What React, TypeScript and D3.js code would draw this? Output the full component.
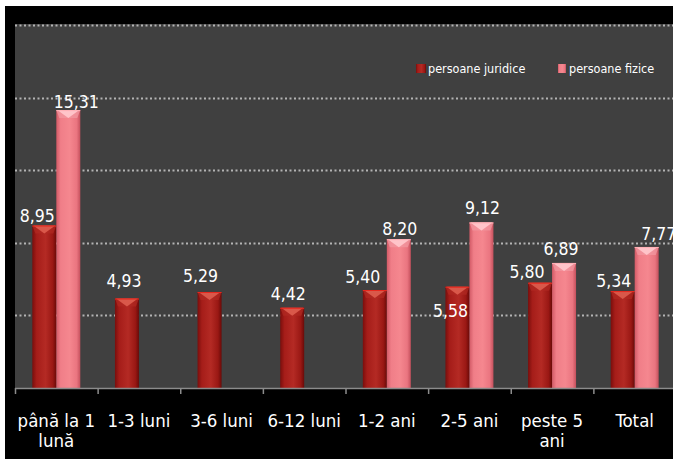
import React from "react";
import * as d3 from "d3";

const categories = ["până la 1 lună", "1-3 luni", "3-6 luni", "6-12 luni", "1-2 ani", "2-5 ani", "peste 5 ani", "Total"];
const seriesNames = ["persoane juridice", "persoane fizice"];
const juridice: (number | null)[] = [8.95, 4.93, 5.29, 4.42, 5.4, 5.58, 5.8, 5.34];
const fizice: (number | null)[] = [15.31, null, null, null, 8.2, 9.12, 6.89, 7.77];
const yTicks = [0, 4, 8, 12, 16, 20];

// label nudges (style): [dx, dy] relative to default placement
const juridiceNudge = [[-7, 3], [-3, -5], [-9, -3], [-4, -1], [-12, 0], [-7, 37], [-13, 2], [-9, 3]];
const fiziceNudge = [[8, 5], [0, 0], [0, 0], [0, 0], [1, 3], [1, -1], [-3, -1], [12, 0]];

const W = 673, H = 459;
const plotLeft = 15, plotRight = 676, plotTop = 24, plotBottom = 388;
const FONT = "'DejaVu Sans Condensed', 'DejaVu Sans', sans-serif";

function wrap(label: string): string[] {
  if (label.length <= 10) return [label];
  const i = label.lastIndexOf(" ");
  return [label.slice(0, i), label.slice(i + 1)];
}

const fmt = (v: number) => v.toFixed(2).replace(".", ",");

export default function App() {
  const x = d3.scaleBand<string>().domain(categories).range([plotLeft, plotRight]).paddingInner(0).paddingOuter(0);
  const y = d3.scaleLinear().domain([0, 20]).range([plotBottom, plotTop + 1]);
  const barW = 24;
  const inner = d3.scaleBand<number>().domain([0, 1]).range([-barW, barW]).padding(0);

  const series = [
    { values: juridice, nudge: juridiceNudge, grad: "gDark", cap: "#d9584a", capSide: "#b02a22", edge: "#e8281e" },
    { values: fizice, nudge: fiziceNudge, grad: "gLight", cap: "#ffc4c9", capSide: "#f29aa2", edge: "#ffb0b6" },
  ];

  const boundaries = categories.map((c) => x(c)!);

  return (
    <svg width={W} height={H} style={{ position: "absolute", left: 0, top: 0 }} fontFamily={FONT}>
      <defs>
        <linearGradient id="gDark" x1="0" x2="1" y1="0" y2="0">
          <stop offset="0" stopColor="#7a0e0c" />
          <stop offset="0.18" stopColor="#a51d19" />
          <stop offset="0.55" stopColor="#b42a24" />
          <stop offset="0.85" stopColor="#9a1814" />
          <stop offset="1" stopColor="#6a0a08" />
        </linearGradient>
        <linearGradient id="gLight" x1="0" x2="1" y1="0" y2="0">
          <stop offset="0" stopColor="#d25a66" />
          <stop offset="0.18" stopColor="#f07e88" />
          <stop offset="0.55" stopColor="#f5878f" />
          <stop offset="0.85" stopColor="#ea7580" />
          <stop offset="1" stopColor="#c4505c" />
        </linearGradient>
      </defs>
      <rect x={0} y={0} width={W} height={H} fill="#ffffff" />
      <rect x={5} y={6} width={W - 5} height={H - 6} fill="#000000" />
      <rect x={plotLeft} y={plotTop} width={plotRight - plotLeft} height={plotBottom - plotTop} fill="#404040" />

      {yTicks.filter((t) => t > 0).map((t) => (
        <line key={t} x1={plotLeft} x2={plotRight} y1={Math.round(y(t)) + 0.5} y2={Math.round(y(t)) + 0.5}
          stroke="#b4b4b4" strokeWidth={2} strokeDasharray="2 2.5" />
      ))}

      {categories.map((c, ci) =>
        series.map((s, si) => {
          const v = s.values[ci];
          if (v == null) return null;
          const cx0 = x(c)! + x.bandwidth() / 2 + inner(si)!;
          const x0 = cx0, x1 = cx0 + barW;
          const top = y(v);
          const mid = (x0 + x1) / 2;
          const capH = 8;
          return (
            <g key={`${ci}-${si}`}>
              <rect x={x0} y={top} width={barW} height={plotBottom - top} fill={`url(#${s.grad})`} />
              <polygon points={`${x0},${top} ${x1},${top} ${x1 - 3},${top + capH} ${x0 + 3},${top + capH}`} fill={s.capSide} opacity={0.7} />
              <polygon points={`${x0 + 1},${top} ${x1 - 1},${top} ${mid},${top + capH}`} fill={s.cap} />
              <line x1={x0} x2={x1} y1={top + 0.5} y2={top + 0.5} stroke={s.edge} strokeWidth={1} />
            </g>
          );
        })
      )}

      <line x1={plotLeft} x2={plotRight} y1={plotBottom + 0.5} y2={plotBottom + 0.5} stroke="#8c8c8c" strokeWidth={1.5} />
      {boundaries.map((bx, i) => (
        <line key={i} x1={bx + 0.5} x2={bx + 0.5} y1={plotBottom} y2={plotBottom + 6} stroke="#8c8c8c" strokeWidth={1.5} />
      ))}

      {categories.map((c, ci) =>
        series.map((s, si) => {
          const v = s.values[ci];
          if (v == null) return null;
          const mid = x(c)! + x.bandwidth() / 2 + inner(si)! + barW / 2;
          const [dx, dy] = s.nudge[ci];
          return (
            <text key={`l${ci}-${si}`} x={mid + dx} y={y(v) - 7 + dy} textAnchor="middle" fill="#ffffff" fontSize={17.5}>
              {fmt(v)}
            </text>
          );
        })
      )}

      {categories.map((c) => {
        const lines = wrap(c);
        const cx = x(c)! + x.bandwidth() / 2;
        return (
          <text key={c} x={cx} y={427} textAnchor="middle" fill="#ffffff" fontSize={18.5}>
            {lines.map((ln, i) => (
              <tspan key={i} x={cx} dy={i === 0 ? 0 : 20}>{ln}</tspan>
            ))}
          </text>
        );
      })}

      {seriesNames.map((n, i) => {
        const lx = [416, 558][i];
        return (
          <g key={n}>
            <rect x={lx} y={64} width={i === 0 ? 10 : 8} height={9} fill={i === 0 ? "url(#gDark)" : "url(#gLight)"} />
            <text x={lx + (i === 0 ? 12 : 11)} y={73} fill="#ffffff" fontSize={12.5}>{n}</text>
          </g>
        );
      })}
    </svg>
  );
}
